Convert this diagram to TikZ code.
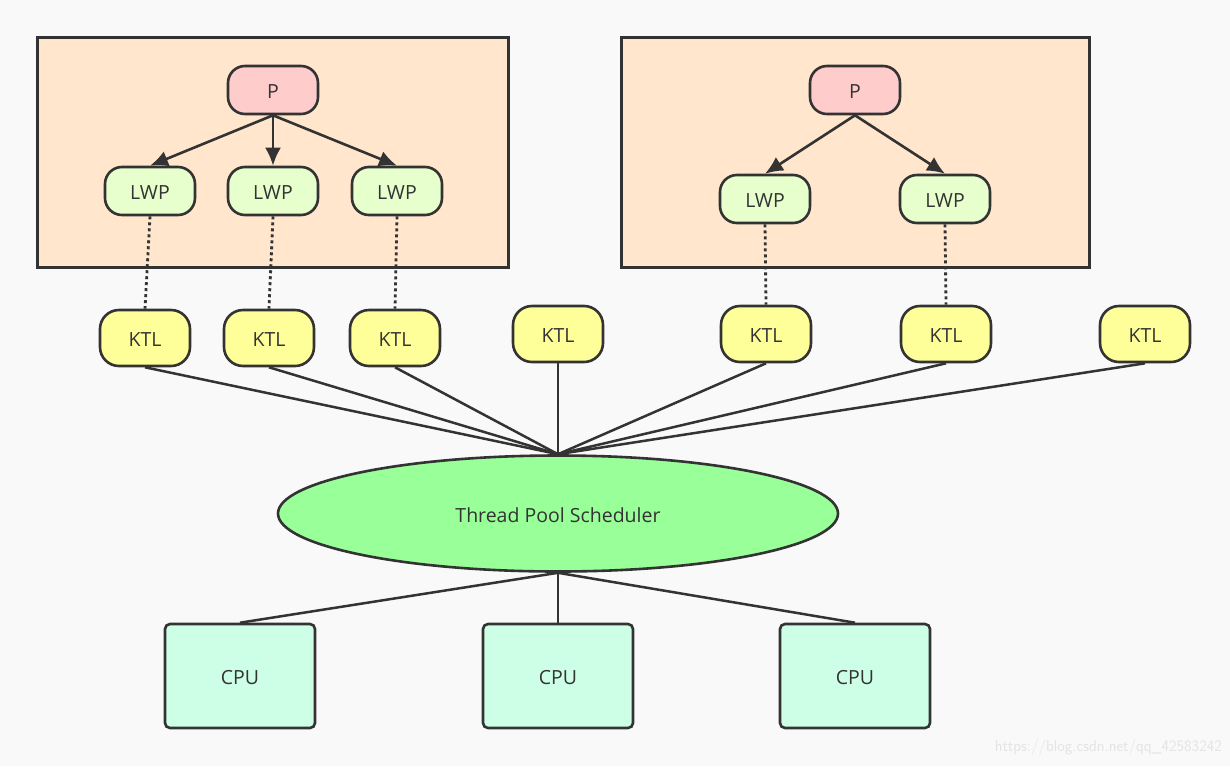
\documentclass[tikz,border=0pt]{standalone}
\usepackage{fontspec}
\setmainfont{Open Sans}
\usetikzlibrary{shapes.geometric,arrows.meta}
\definecolor{bg}{HTML}{F9F9F9}
\definecolor{ink}{HTML}{333333}
\definecolor{peach}{HTML}{FFE6CC}
\definecolor{pcol}{HTML}{FFCCCC}
\definecolor{lwpcol}{HTML}{E6FFCC}
\definecolor{ktlcol}{HTML}{FFFF99}
\definecolor{schcol}{HTML}{99FF99}
\definecolor{cpucol}{HTML}{CCFFE6}
\definecolor{wm}{HTML}{E4E4E4}
\begin{document}
\begin{tikzpicture}[x=1pt,y=-1pt,
  lbl/.style={text=ink, font=\fontsize{19.5}{22}\selectfont, inner sep=0pt, text height=17pt, text depth=0pt},
  group/.style={draw=ink, line width=3pt, fill=peach, inner sep=0pt},
  pbox/.style={lbl, draw=ink, line width=2.6pt, fill=pcol, rounded corners=17pt, minimum width=90pt, minimum height=48pt},
  lwpbox/.style={lbl, draw=ink, line width=2.6pt, fill=lwpcol, rounded corners=17pt, minimum width=90pt, minimum height=48pt},
  ktlbox/.style={lbl, draw=ink, line width=2.6pt, fill=ktlcol, rounded corners=19pt, minimum width=90pt, minimum height=56pt},
  cpubox/.style={lbl, draw=ink, line width=2.6pt, fill=cpucol, rounded corners=5pt, minimum width=150pt, minimum height=104pt},
  sched/.style={lbl, ellipse, draw=ink, line width=2.6pt, fill=schcol, minimum width=560pt, minimum height=116pt},
  arr/.style={draw=ink, line width=2.6pt, -{Latex[length=18pt,width=16pt]}},
  dots/.style={draw=ink, line width=2.8pt, dash pattern=on 3pt off 3pt},
  link/.style={draw=ink, line width=2.5pt}
]
\fill[bg] (0,0) rectangle (1230,766);
\useasboundingbox (0,0) rectangle (1230,766);

% group boxes
\node[group, minimum width=471pt, minimum height=230pt] (g1) at (272.5,152) {};
\node[group, minimum width=468pt, minimum height=230pt] (g2) at (855,152) {};

% left process
\node[pbox] (p1) at (273,90) {P};
\node[lwpbox] (l1) at (150,191) {LWP};
\node[lwpbox] (l2) at (273,191) {LWP};
\node[lwpbox] (l3) at (397,191) {LWP};

% right process
\node[pbox] (p2) at (855,90) {P};
\node[lwpbox] (l4) at (765,199) {LWP};
\node[lwpbox] (l5) at (945,199) {LWP};

\draw[arr] (p1.south) -- (l1.north);
\draw[arr] (p1.south) -- (l2.north);
\draw[arr] (p1.south) -- (l3.north);
\draw[arr] (p2.south) -- (l4.north);
\draw[arr] (p2.south) -- (l5.north);

% KTLs
\node[ktlbox] (k1) at (145,338) {KTL};
\node[ktlbox] (k2) at (269,338) {KTL};
\node[ktlbox] (k3) at (395,338) {KTL};
\node[ktlbox] (k4) at (558,334) {KTL};
\node[ktlbox] (k5) at (766,334) {KTL};
\node[ktlbox] (k6) at (946,334) {KTL};
\node[ktlbox] (k7) at (1145,334) {KTL};

\draw[dots] (l1.south) -- (k1.north);
\draw[dots] (l2.south) -- (k2.north);
\draw[dots] (l3.south) -- (k3.north);
\draw[dots] (l4.south) -- (k5.north);
\draw[dots] (l5.south) -- (k6.north);

% scheduler
\node[sched] (s) at (558,513.5) {Thread Pool Scheduler};
\foreach \k in {k1,k2,k3,k4,k5,k6,k7}{
  \draw[link] (\k.south) -- (s.north);
}

% CPUs
\node[cpubox] (c1) at (240,676) {CPU};
\node[cpubox] (c2) at (558,676) {CPU};
\node[cpubox] (c3) at (855,676) {CPU};
\draw[link] (s.south) -- (c1.north);
\draw[link] (s.south) -- (c2.north);
\draw[link] (s.south) -- (c3.north);

% watermark
\node[text=wm, font=\fontsize{16}{18}\selectfont\sffamily, anchor=east, inner sep=0pt] (wmk) at (1222,747) {https://blog.csdn.net/qq\_42583242};
\end{tikzpicture}
\end{document}
